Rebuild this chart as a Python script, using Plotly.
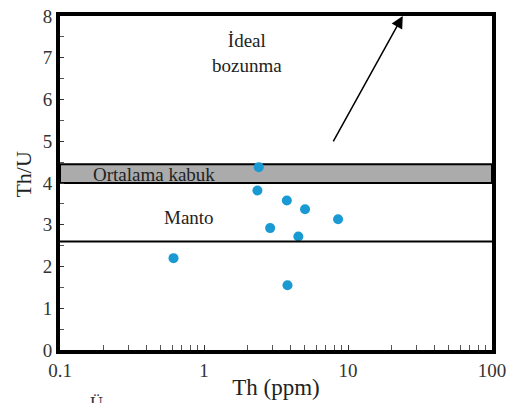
import math
import plotly.graph_objects as go

# Data
th_ppm = [2.40, 2.35, 3.76, 5.03, 8.53, 2.88, 4.52, 0.614, 3.80]
th_u = [4.38, 3.82, 3.58, 3.37, 3.13, 2.92, 2.72, 2.20, 1.55]

crust_band = [4.0, 4.45]
mantle_line = 2.6
arrow_tail = (7.8, 4.96)
arrow_tip = (24.0, 8.0)

x_ticks = [0.1, 1, 10, 100]
x_ticktext = ["0.1", "1", "10", "100"]
y_ticks = [0, 1, 2, 3, 4, 5, 6, 7, 8]

FONT = "'Liberation Serif', 'Times New Roman', 'DejaVu Serif', serif"

fig = go.Figure()

fig.add_trace(go.Scatter(
    x=th_ppm, y=th_u, mode="markers",
    marker=dict(color="#1a9ad2", size=10, line=dict(width=0)),
    showlegend=False, cliponaxis=False,
))

# Average crust band
fig.add_shape(type="rect", xref="paper", yref="y", x0=0, x1=1,
              y0=crust_band[0], y1=crust_band[1],
              fillcolor="#ababab", line=dict(color="black", width=2), layer="below")
# Mantle line
fig.add_shape(type="line", xref="paper", yref="y", x0=0, x1=1,
              y0=mantle_line, y1=mantle_line, line=dict(color="black", width=2))

# Arrow
fig.add_annotation(x=math.log10(arrow_tip[0]), y=arrow_tip[1],
                   ax=math.log10(arrow_tail[0]), ay=arrow_tail[1],
                   xref="x", yref="y", axref="x", ayref="y",
                   showarrow=True, arrowhead=2, arrowsize=1.6, arrowwidth=1.5,
                   arrowcolor="black", text="")

fig.add_annotation(x=math.log10(1.98), y=7.12, xref="x", yref="y",
                   text="İdeal<br>bozunma", showarrow=False,
                   font=dict(family=FONT, size=19, color="#222"), align="center")
fig.add_annotation(x=math.log10(0.452), y=4.21, xref="x", yref="y",
                   text="Ortalama kabuk", showarrow=False,
                   font=dict(family=FONT, size=19, color="#222"))
fig.add_annotation(x=math.log10(0.79), y=3.18, xref="x", yref="y",
                   text="Manto", showarrow=False,
                   font=dict(family=FONT, size=19, color="#222"))
# y-axis title placed as in the reference
fig.add_annotation(x=(23 - 60) / 435, y=(352 - 170) / 346, xref="paper", yref="paper",
                   text="Th/U", textangle=-90, showarrow=False,
                   xanchor="center", yanchor="middle",
                   font=dict(family=FONT, size=22, color="#222"))
# cut-off caption fragment at bottom
fig.add_annotation(x=(97 - 60) / 435, y=-(396 - 352) / 346, xref="paper", yref="paper",
                   text="Ü", showarrow=False, xanchor="center", yanchor="top",
                   font=dict(family=FONT, size=18, color="#333"))

fig.update_xaxes(type="log", range=[-1, 2], tickvals=x_ticks, ticktext=x_ticktext,
                 showline=True, linecolor="black", linewidth=4, mirror=True,
                 ticks="inside", ticklen=5, tickcolor="#333", showgrid=False, zeroline=False,
                 minor=dict(ticks="inside", ticklen=5, tickcolor="#555", dtick="D1", showgrid=False),
                 tickfont=dict(family=FONT, size=19, color="#333"), ticklabeloverflow="allow",
                 title=dict(text="Th (ppm)", font=dict(family=FONT, size=23, color="#222"), standoff=0))
fig.update_yaxes(range=[0, 8], tickvals=y_ticks,
                 showline=True, linecolor="black", linewidth=4, mirror=True,
                 ticks="inside", ticklen=4, tickcolor="#333", showgrid=False, zeroline=False,
                 minor=dict(ticks="inside", ticklen=4, tickcolor="#555", dtick=0.5, showgrid=False),
                 tickfont=dict(family=FONT, size=19, color="#333"), ticklabeloverflow="allow")

fig.update_layout(width=512, height=403, margin=dict(l=60, r=17, t=6, b=51),
                  plot_bgcolor="white", paper_bgcolor="white",
                  font=dict(family=FONT))

fig.write_html("out.html")
